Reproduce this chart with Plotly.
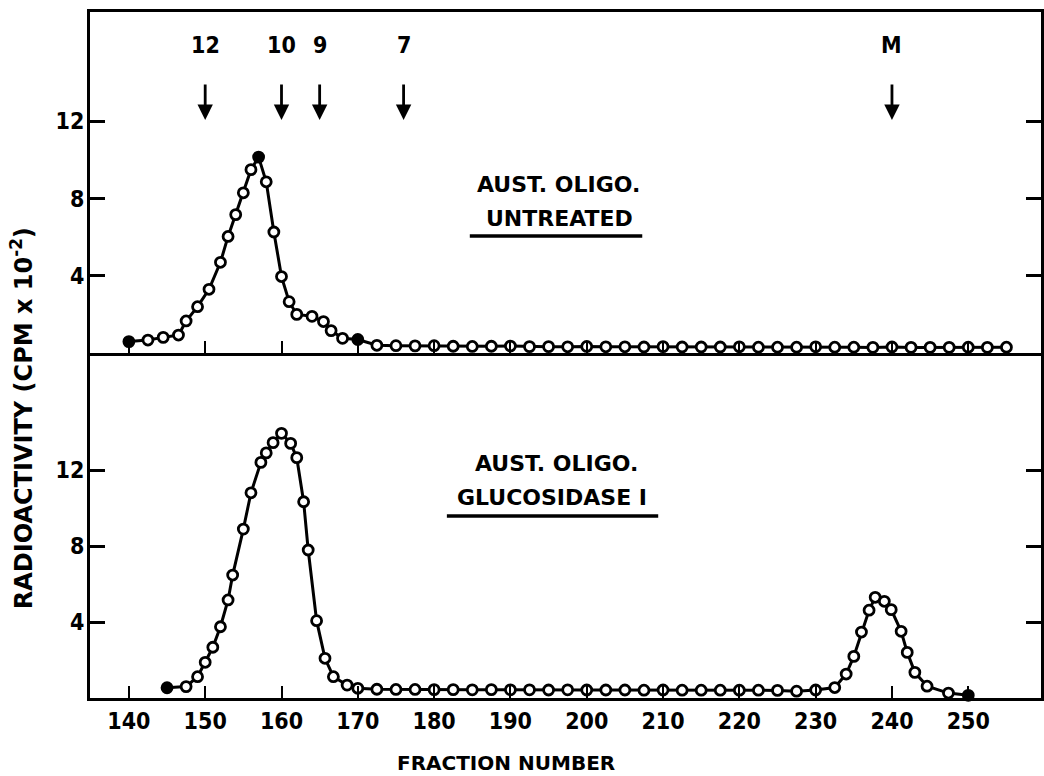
import plotly.graph_objects as go
from plotly.subplots import make_subplots

# ---------------- data ----------------
# Upper panel: AUST. OLIGO. UNTREATED
top_fraction = [140, 142.5, 144.5, 146.5, 147.5, 149, 150.5, 152, 153, 154, 155, 156, 157,
                158, 159, 160, 161, 162, 164, 165.5, 166.5, 168, 170,
                172.5, 175, 177.5, 180, 182.5, 185, 187.5, 190, 192.5, 195, 197.5, 200,
                202.5, 205, 207.5, 210, 212.5, 215, 217.5, 220, 222.5, 225, 227.5, 230,
                232.5, 235, 237.5, 240, 242.5, 245, 247.5, 250, 252.5, 255]
top_cpm = [0.59, 0.67, 0.81, 0.93, 1.66, 2.4, 3.3, 4.7, 6.04, 7.17, 8.3, 9.5, 10.15,
           8.87, 6.27, 3.96, 2.66, 2.0, 1.9, 1.63, 1.16, 0.76, 0.7,
           0.40, 0.38, 0.37, 0.38, 0.35, 0.34, 0.35, 0.36, 0.33, 0.33, 0.32, 0.34,
           0.32, 0.32, 0.31, 0.33, 0.31, 0.31, 0.31, 0.32, 0.30, 0.30, 0.30, 0.32,
           0.30, 0.30, 0.29, 0.31, 0.29, 0.29, 0.29, 0.30, 0.29, 0.30]
top_filled = [140, 157, 170]

# Lower panel: AUST. OLIGO. GLUCOSIDASE I
bottom_fraction = [145, 147.5, 149, 150, 151, 152, 153, 153.6, 155, 156, 157.3, 158, 158.9,
                   160, 161.2, 162, 162.9, 163.5, 164.6, 165.7, 166.8, 168.6, 170,
                   172.5, 175, 177.5, 180, 182.5, 185, 187.5, 190, 192.5, 195, 197.5, 200,
                   202.5, 205, 207.5, 210, 212.5, 215, 217.5, 220, 222.5, 225, 227.5, 230,
                   232.5, 234, 235, 236, 237, 237.8, 239, 239.9, 241.2, 242, 243, 244.6,
                   247.4, 250]
bottom_cpm = [0.54, 0.6, 1.12, 1.88, 2.67, 3.75, 5.16, 6.47, 8.89, 10.8, 12.4, 12.9, 13.44,
              13.93, 13.4, 12.65, 10.33, 7.79, 4.07, 2.09, 1.12, 0.68, 0.51,
              0.46, 0.45, 0.45, 0.44, 0.44, 0.43, 0.44, 0.43, 0.43, 0.42, 0.43, 0.42,
              0.42, 0.42, 0.41, 0.42, 0.41, 0.41, 0.41, 0.41, 0.41, 0.40, 0.36, 0.42,
              0.55, 1.26, 2.19, 3.47, 4.62, 5.3, 5.09, 4.65, 3.51, 2.4, 1.35, 0.62,
              0.26, 0.14]
bottom_filled = [145, 250]

x_ticks = [140, 150, 160, 170, 180, 190, 200, 210, 220, 230, 240, 250]
y_ticks = [4, 8, 12]

# marker arrows (standards) above upper panel
marker_labels = ["12", "10", "9", "7", "M"]
marker_fraction = [150, 160, 165, 176, 240]

# ---------------- layout geometry ----------------
W, H = 1044, 776
ML, MR, MT, MB = 90, 0, 12, 78
PW, PH = W - ML - MR, H - MT - MB
DIV_PX = 353  # divider between panels (pixel)


def px_x(p):
    return (p - ML) / PW


def px_y(p):
    return (H - MB - p) / PH


split = px_y(DIV_PX)
NARROW = "DejaVu Sans Condensed, Liberation Sans Narrow, Arial Narrow, sans-serif"
WIDE = "DejaVu Sans, Verdana, sans-serif"

fig = make_subplots(rows=2, cols=1, shared_xaxes=True, vertical_spacing=0)


def add_series(fr, val, filled, row):
    colors = ["black" if f in filled else "white" for f in fr]
    fig.add_trace(go.Scatter(
        x=fr, y=val, mode="lines+markers",
        line=dict(color="black", width=3),
        marker=dict(symbol="circle", size=10, color=colors,
                    line=dict(color="black", width=2.8)),
        showlegend=False, cliponaxis=False), row=row, col=1)


add_series(top_fraction, top_cpm, top_filled, 1)
add_series(bottom_fraction, bottom_cpm, bottom_filled, 2)

xr = [140 - (129 - ML) / 7.655, 140 + (W - MR - 129) / 7.655]

axis_common = dict(showgrid=False, zeroline=False, showline=True, linecolor="black",
                   linewidth=3, ticks="inside", tickcolor="black")
tick_font = dict(family=NARROW, size=23, weight="bold", color="black")

fig.update_layout(
    width=W, height=H, margin=dict(l=ML, r=MR, t=MT, b=MB),
    paper_bgcolor="white", plot_bgcolor="white",
    font=dict(family=NARROW, color="black", size=23, weight="bold"),
    xaxis=dict(domain=[0, 1], range=xr, tickvals=x_ticks, showticklabels=False,
               ticklen=12, tickwidth=2.2, mirror=True, anchor="y", **axis_common),
    xaxis2=dict(domain=[0, 1], range=xr, tickvals=x_ticks, ticklen=12, tickwidth=2.2,
                anchor="y2", ticklabelstandoff=0, tickfont=tick_font, **axis_common),
    yaxis=dict(domain=[split, 1], range=[0, (DIV_PX - MT) / 19.3], tickvals=y_ticks,
               ticklen=15, tickwidth=2.6, mirror="ticks", ticklabelstandoff=-2,
               tickfont=tick_font, **axis_common),
    yaxis2=dict(domain=[0, split], range=[0, (H - MB - DIV_PX) / 19.0], tickvals=y_ticks,
                ticklen=15, tickwidth=2.6, mirror="ticks", ticklabelstandoff=-2,
                tickfont=tick_font, **axis_common),
)

ann = []
# standard-marker arrows: label at the tail, arrow pointing down to the panel
for lab, f in zip(marker_labels, marker_fraction):
    ann.append(dict(x=f, y=px_y(120), xref="x", yref="paper", text=lab, showarrow=True,
                    ax=0, ay=-75, axref="pixel", ayref="pixel", arrowhead=2,
                    arrowsize=1.1, arrowwidth=2.8, arrowcolor="black",
                    startstandoff=25, xanchor="center", yanchor="middle",
                    font=tick_font))

# panel labels
panel_font = dict(family=WIDE, size=22, weight="bold", color="black")


def label(text, xp, yp, font, angle=0):
    return dict(x=px_x(xp), y=px_y(yp), xref="paper", yref="paper", text=text,
                showarrow=False, xanchor="center", yanchor="middle",
                textangle=angle, font=font)


ann += [
    label("AUST. OLIGO.", 560, 185, panel_font),
    label("UNTREATED", 561, 219, panel_font),
    label("AUST. OLIGO.", 558, 463, panel_font),
    label("GLUCOSIDASE I", 553, 497, panel_font),
    label("RADIOACTIVITY (CPM x 10<sup>-2</sup>)", 22, 418,
          dict(family=WIDE, size=24, weight="bold", color="black"), -90),
    label("FRACTION NUMBER", 507, 763,
          dict(family=WIDE, size=20, weight="bold", color="black")),
]
fig.update_layout(annotations=ann)

# underlines under panel labels
fig.add_shape(type="line", xref="paper", yref="paper", x0=px_x(471), x1=px_x(644),
              y0=px_y(236), y1=px_y(236), line=dict(color="black", width=3.5))
fig.add_shape(type="line", xref="paper", yref="paper", x0=px_x(448), x1=px_x(660),
              y0=px_y(516), y1=px_y(516), line=dict(color="black", width=3.5))

fig.write_html("out.html")
